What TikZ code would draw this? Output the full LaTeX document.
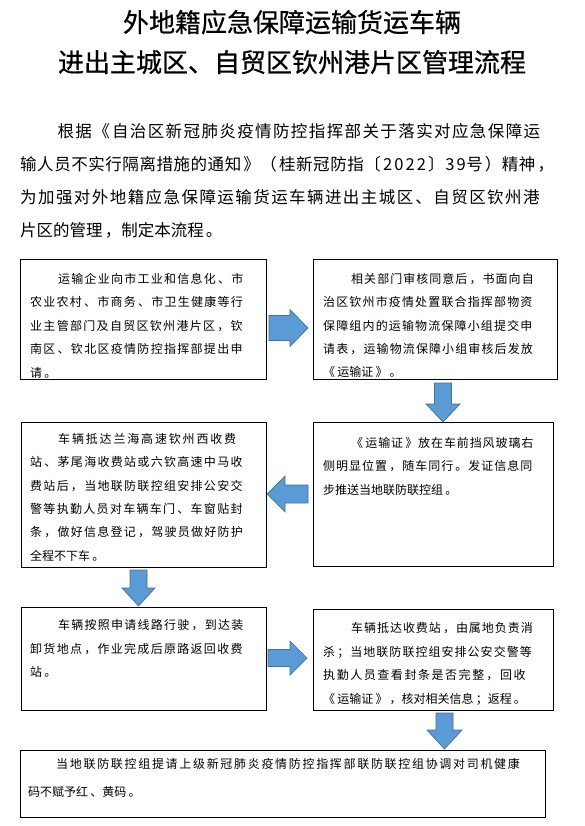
\documentclass[tikz,border=0pt]{standalone}
\usepackage{fontspec}
\setmainfont{Noto Sans CJK SC}
\newfontfamily\cjkt[FakeBold=0.6]{Noto Sans CJK SC}
\newfontfamily\cjkp[LetterSpace=13]{Noto Sans CJK SC}
\newfontfamily\cjkb[LetterSpace=18]{Noto Sans CJK SC}
\XeTeXlinebreaklocale "zh"
\XeTeXlinebreakskip=0pt plus 2pt minus 0.6pt
\definecolor{arrowfill}{HTML}{5B9BD5}
\definecolor{arrowline}{HTML}{41719C}
\newcommand\rarr[6]{% x0 x1 xh yc sh hh
  \filldraw[barrow] (#1,#4-#5) -- (#3,#4-#5) -- (#3,#4-#6) -- (#2,#4) -- (#3,#4+#6) -- (#3,#4+#5) -- (#1,#4+#5) -- cycle;}
\newcommand\darr[6]{% y0 y1 yh xc sh hh
  \filldraw[barrow] (#4-#5,#1) -- (#4-#5,#3) -- (#4-#6,#3) -- (#4,#2) -- (#4+#6,#3) -- (#4+#5,#3) -- (#4+#5,#1) -- cycle;}
\begin{document}
\begin{tikzpicture}[x=1pt,y=-1pt,
  box/.style={draw=black, line width=0.8pt, inner sep=0pt, anchor=north west},
  btxt/.style={anchor=north west, inner sep=0pt, text width=#1, font=\cjkb\fontsize{12}{23.4}\selectfont},
  ptxt/.style={anchor=north west, inner sep=0pt, text width=#1, font=\cjkp\fontsize{16.5}{33}\selectfont},
  ttl/.style={anchor=base, inner sep=0pt, font=\cjkt\fontsize{26}{30}\selectfont},
  barrow/.style={fill=arrowfill, draw=arrowline, line width=0.7pt}]
\useasboundingbox (0,0) rectangle (584,826);
\fill[white] (0,0) rectangle (584,826);

% title
\node[ttl] (title1) at (292,32) {外地籍应急保障运输货运车辆};
\node[ttl] (title2) at (292,72) {进出主城区、自贸区钦州港片区管理流程};

% intro paragraph
\node[ptxt=543] (intro) at (20,123) {\hspace*{37.4pt}根据《自治区新冠肺炎疫情防控指挥部关于落实对应急保障运\linebreak
输人员不实行隔离措施的通知》（桂新冠防指〔2022〕39号）精神，\linebreak
为加强对外地籍应急保障运输货运车辆进出主城区、自贸区钦州港\linebreak
片区的管理，制定本流程。};

% boxes
\node[box, minimum width=246, minimum height=120] (b1) at (20,259) {};
\node[box, minimum width=244, minimum height=120] (b2) at (313,259) {};
\node[box, minimum width=240, minimum height=144] (b3) at (313,422) {};
\node[box, minimum width=245, minimum height=145] (b4) at (21,422) {};
\node[box, minimum width=245, minimum height=103] (b5) at (21,607) {};
\node[box, minimum width=240, minimum height=101] (b6) at (313,609) {};
\node[box, minimum width=525, minimum height=67] (b7) at (20,750) {};

% box texts
\node[btxt=228] (t1) at (30,273) {\hspace*{28pt}运输企业向市工业和信息化、市\linebreak
农业农村、市商务、市卫生健康等行\linebreak
业主管部门及自贸区钦州港片区，钦\linebreak
南区、钦北区疫情防控指挥部提出申\linebreak
请。};
\node[btxt=223] (t2) at (323,273) {\hspace*{28pt}相关部门审核同意后，书面向自\linebreak
治区钦州市疫情处置联合指挥部物资\linebreak
保障组内的运输物流保障小组提交申\linebreak
请表，运输物流保障小组审核后发放\linebreak
《运输证》。};
\node[btxt=221] (t3) at (323,437) {\hspace*{28pt}《运输证》放在车前挡风玻璃右\linebreak
侧明显位置，随车同行。发证信息同\linebreak
步推送当地联防联控组。};
\node[btxt=228] (t4) at (30,433) {\hspace*{28pt}车辆抵达兰海高速钦州西收费\linebreak
站、茅尾海收费站或六钦高速中马收\linebreak
费站后，当地联防联控组安排公安交\linebreak
警等执勤人员对车辆车门、车窗贴封\linebreak
条，做好信息登记，驾驶员做好防护\linebreak
全程不下车。};
\node[btxt=228] (t5) at (30,619.5) {\hspace*{28pt}车辆按照申请线路行驶，到达装\linebreak
卸货地点，作业完成后原路返回收费\linebreak
站。};
\node[btxt=221] (t6) at (323,622.5) {\hspace*{28pt}车辆抵达收费站，由属地负责消\linebreak
杀；当地联防联控组安排公安交警等\linebreak
执勤人员查看封条是否完整，回收\linebreak
《运输证》，核对相关信息；返程。};
\node[btxt=512, font=\cjkb\fontsize{12}{28}\selectfont] (t7) at (28,758) {\hspace*{28pt}当地联防联控组提请上级新冠肺炎疫情防控指挥部联防联控组协调对司机健康\linebreak
码不赋予红、黄码。};

% block arrows
\rarr{269}{308}{290}{328}{12.5}{18.5}
\darr{383}{422}{404}{443}{8.5}{17}
\rarr{308}{267}{285}{494}{9}{18}
\darr{570}{606}{588}{138.5}{8.5}{16.5}
\rarr{268}{307}{290}{658}{8.5}{17}
\darr{713}{749}{730}{444.5}{8.5}{17.5}
\end{tikzpicture}
\end{document}
